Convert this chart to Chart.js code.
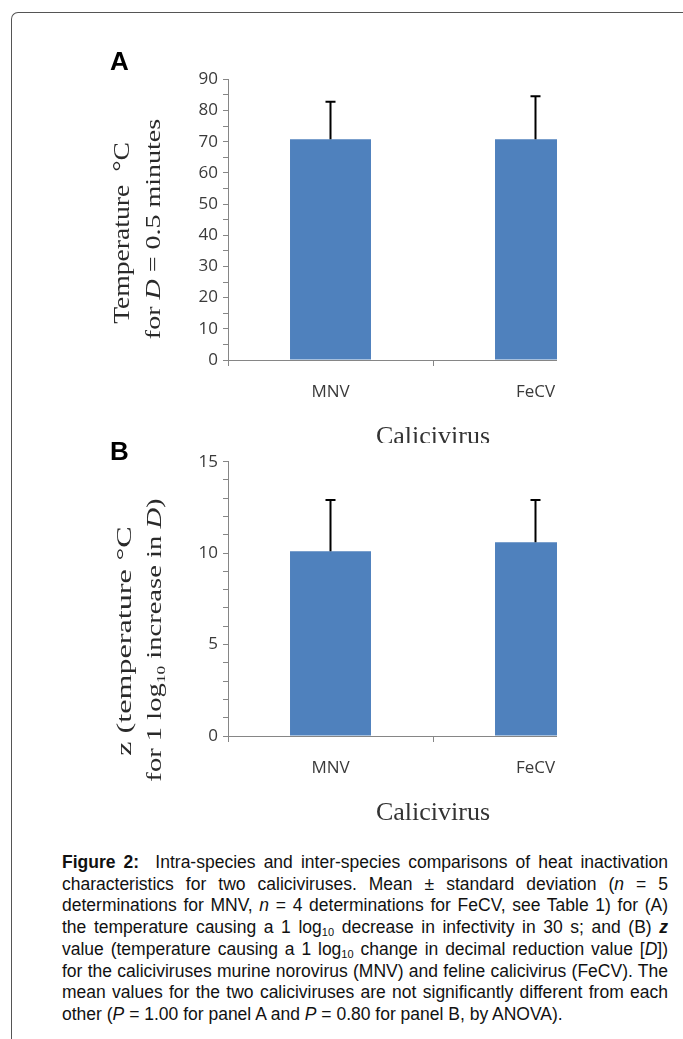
<!DOCTYPE html>
<html>
<head>
<meta charset="utf-8">
<script src="https://cdn.jsdelivr.net/npm/chart.js@4/dist/chart.umd.min.js"></script>
<style>
  html, body { margin: 0; padding: 0; background: #fff; }
  body { width: 683px; height: 1039px; position: relative; overflow: hidden; }
  .frame { position: absolute; left: 11px; top: 12px; width: 700px; height: 1100px;
    border-top: 1.5px solid #555; border-left: 1.5px solid #555; border-top-left-radius: 7px; }
  .clip { position: absolute; left: 0; width: 557px; overflow: hidden; }
  .panel-label { position: absolute; font: bold 26px "Liberation Sans", Arial, sans-serif; color: #000; line-height: 1; }
  .ytitle { position: absolute; width: 0; height: 0; }
  .ytitle span.t { position: absolute; white-space: nowrap; font-family: "Liberation Serif", "Times New Roman", serif;
    color: #2a2a2a; }
  .ytitle .gap { display: inline-block; }
  .ytitle sub { font-size: 12px; vertical-align: -4px; line-height: 0; }
  .caption { position: absolute; left: 62px; top: 852px; width: 606px;
    font: 17.5px "Liberation Sans", Arial, sans-serif; color: #111; line-height: 21.7px; }
  .caption div { text-align: justify; text-align-last: justify; white-space: nowrap; }
  .caption div.last { text-align-last: left; }
  .caption sub { font-size: 11px; vertical-align: -3px; line-height: 0; }
</style>
</head>
<body>
<div class="frame"></div>

<div class="clip" style="top:0;height:443px"><canvas id="chartA" width="645" height="460"></canvas></div>
<div class="clip" style="top:443px;height:377px"><canvas id="chartB" width="645" height="401"></canvas></div>

<div class="panel-label" style="left:110px;top:48px">A</div>
<div class="panel-label" style="left:110px;top:438px">B</div>

<div class="ytitle" style="left:122px;top:233px"><span class="t" style="font-size:23px;transform:translate(-50%,-50%) rotate(-90deg) scaleX(1.2)">Temperature<span class="gap" style="width:11px"></span>°C</span></div>
<div class="ytitle" style="left:153px;top:229px"><span class="t" style="font-size:20px;transform:translate(-50%,-50%) rotate(-90deg) scaleX(1.4)">for <i>D</i> = 0.5 minutes</span></div>
<div class="ytitle" style="left:124px;top:641px"><span class="t" style="font-size:22px;transform:translate(-50%,-50%) rotate(-90deg) scaleX(1.46)">z (temperature<span class="gap" style="width:6px"></span>°C</span></div>
<div class="ytitle" style="left:154px;top:640px"><span class="t" style="font-size:20px;transform:translate(-50%,-50%) rotate(-90deg) scaleX(1.43)">for 1 log<sub>10</sub> increase in <i>D</i>)</span></div>

<div class="caption">
  <div><b>Figure 2:</b>&nbsp; Intra-species and inter-species comparisons of heat inactivation</div>
  <div>characteristics for two caliciviruses. Mean ± standard deviation (<i>n</i> = 5</div>
  <div>determinations for MNV, <i>n</i> = 4 determinations for FeCV, see Table 1) for (A)</div>
  <div>the temperature causing a 1 log<sub>10</sub> decrease in infectivity in 30 s; and (B) <b><i>z</i></b></div>
  <div>value (temperature causing a 1 log<sub>10</sub> change in decimal reduction value [<i>D</i>])</div>
  <div>for the caliciviruses murine norovirus (MNV) and feline calicivirus (FeCV). The</div>
  <div>mean values for the two caliciviruses are not significantly different from each</div>
  <div class="last">other (<i>P</i> = 1.00 for panel A and <i>P</i> = 0.80 for panel B, by ANOVA).</div>
</div>

<script>
const categories = ['MNV', 'FeCV'];
// panel A: temperature for D = 0.5 min
const tempMeans = [70.8, 70.8];
const tempSD = [12.0, 13.8];
// panel B: z value
const zMeans = [10.1, 10.6];
const zSD = [2.8, 2.3];
// y axis ticks: [max, step, labelled every]
const tempAxis = [90, 5, 10];
const zAxis = [15, 1, 5];
const xTitle = 'Calicivirus';

const axisGray = '#868686';
const textGray = '#3a3a3a';

const errorBars = {
  id: 'errorBars',
  afterDatasetsDraw(chart) {
    const {ctx} = chart;
    const y = chart.scales.y;
    const ds = chart.data.datasets[0];
    ctx.save();
    ctx.strokeStyle = '#000';
    ctx.lineWidth = 2;
    chart.getDatasetMeta(0).data.forEach((bar, i) => {
      const top = y.getPixelForValue(ds.data[i] + ds.sd[i]);
      ctx.beginPath();
      ctx.moveTo(bar.x, bar.y);
      ctx.lineTo(bar.x, top);
      ctx.moveTo(bar.x - 5, top);
      ctx.lineTo(bar.x + 5, top);
      ctx.stroke();
    });
    ctx.restore();
  }
};

function makePanel(id, means, sd, axis, pad) {
  const [max, step, every] = axis;
  const ctx = document.getElementById(id).getContext('2d');
  return new Chart(ctx, {
    type: 'bar',
    data: {
      labels: categories,
      datasets: [{
        data: means,
        sd: sd,
        backgroundColor: '#4f81bd',
        borderWidth: 0,
        barPercentage: 0.395,
        categoryPercentage: 1
      }]
    },
    options: {
      responsive: false,
      devicePixelRatio: 1,
      animation: false,
      layout: {padding: {left: 0, top: pad.top, right: 7, bottom: 0}},
      plugins: {legend: {display: false}, tooltip: {enabled: false}},
      scales: {
        x: {
          afterFit: s => { s.height = pad.xh; },
          grid: {offset: true, drawOnChartArea: false, tickLength: 6, color: axisGray},
          border: {color: axisGray, width: 1},
          ticks: {padding: 16, color: textGray, font: {family: 'Open Sans', size: 17}},
          title: {
            display: true, text: xTitle, color: '#333',
            font: {family: 'Liberation Serif', size: 26},
            padding: {top: 0, bottom: pad.tb}
          }
        },
        y: {
          min: 0, max: max,
          afterFit: s => { s.width = 228; },
          grid: {drawOnChartArea: false, tickLength: 5, color: axisGray},
          border: {color: axisGray, width: 1},
          ticks: {
            stepSize: step, padding: 5, color: textGray, autoSkip: false,
            font: {family: 'Open Sans', size: 17},
            callback: v => (v % every === 0 ? v : '')
          }
        }
      }
    },
    plugins: [errorBars]
  });
}

makePanel('chartA', tempMeans, tempSD, tempAxis, {top: 79.3, xh: 100, tb: 7});
makePanel('chartB', zMeans, zSD, zAxis, {top: 18.7, xh: 108, tb: 15});
</script>
</body>
</html>
